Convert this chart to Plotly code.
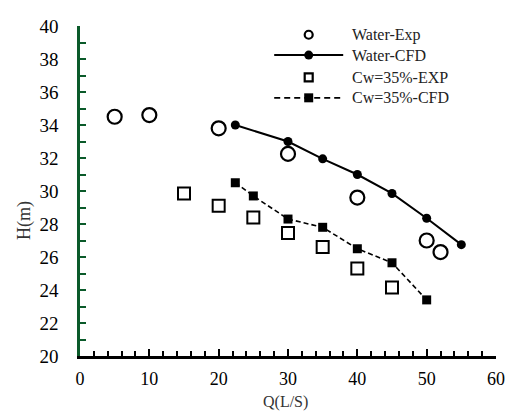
import plotly.graph_objects as go

# ---- data ----
water_exp_q = [5, 10, 20, 30, 40, 50, 52]
water_exp_h = [34.5, 34.6, 33.8, 32.25, 29.6, 27.0, 26.3]

water_cfd_q = [22.4, 30, 35, 40, 45, 50, 55]
water_cfd_h = [34.0, 33.0, 31.95, 31.0, 29.85, 28.35, 26.75]

cw_exp_q = [15, 20, 25, 30, 35, 40, 45]
cw_exp_h = [29.85, 29.1, 28.4, 27.45, 26.6, 25.3, 24.15]

cw_cfd_q = [22.4, 25, 30, 35, 40, 45, 50]
cw_cfd_h = [30.5, 29.7, 28.3, 27.8, 26.5, 25.65, 23.4]

legend_names = ["Water-Exp", "Water-CFD", "Cw=35%-EXP", "Cw=35%-CFD"]

# page has an 8px body margin; figure is sized so the page is 513x420
OFF = 8
W, H = 513 - OFF, 420 - 2 * OFF
# plot-area bounds in page pixels
PL, PR, PT, PB = 80, 502, 16, 356
L, R, T, B = PL - OFF, PR - OFF, PT - OFF, PB - OFF
GREEN = "#0a5a2a"
FONT = "Liberation Serif"


def px(x):
    return (x - PL) / (PR - PL)


def py(y):
    return (PB - y) / (PB - PT)


fig = go.Figure()

fig.add_trace(go.Scatter(x=water_exp_q, y=water_exp_h, mode="markers",
                         marker=dict(symbol="circle-open", size=14, color="black",
                                     line=dict(width=2.2, color="black"))))
fig.add_trace(go.Scatter(x=water_cfd_q, y=water_cfd_h, mode="lines+markers",
                         line=dict(color="black", width=2),
                         marker=dict(symbol="circle", size=9, color="black")))
fig.add_trace(go.Scatter(x=cw_exp_q, y=cw_exp_h, mode="markers",
                         marker=dict(symbol="square-open", size=12, color="black",
                                     line=dict(width=2, color="black"))))
fig.add_trace(go.Scatter(x=cw_cfd_q, y=cw_cfd_h, mode="lines+markers",
                         line=dict(color="black", width=1.6, dash="5px,3px"),
                         marker=dict(symbol="square", size=9, color="black")))

# ---- custom legend (overlay axis in page-pixel units) ----
rows_y = [25, 46, 69, 90]
key_x0, key_xm, key_x1, text_x = 277, 312, 347, 354
key_lines = [None, dict(color="black", width=2), None,
             dict(color="black", width=1.8, dash="6px,4px")]
key_markers = [
    dict(symbol="circle-open", size=8, color="black", line=dict(width=2.2, color="black")),
    dict(symbol="circle", size=9, color="black"),
    dict(symbol="square-open", size=8, color="black", line=dict(width=2.2, color="black")),
    dict(symbol="square", size=9, color="black"),
]
for name, yy, ln, mk in zip(legend_names, rows_y, key_lines, key_markers):
    if ln is not None:
        fig.add_trace(go.Scatter(x=[key_x0, key_x1], y=[yy, yy], mode="lines", line=ln,
                                 xaxis="x2", yaxis="y2", hoverinfo="skip"))
    fig.add_trace(go.Scatter(x=[key_xm], y=[yy], mode="markers", marker=mk,
                             xaxis="x2", yaxis="y2", hoverinfo="skip"))
    fig.add_annotation(x=px(text_x), y=py(yy), xref="paper", yref="paper", text=name,
                       showarrow=False, xanchor="left", yanchor="middle",
                       font=dict(family=FONT, size=16, color="#222"))

# axis titles
fig.add_annotation(x=px(23), y=py(216), xref="paper", yref="paper", text="H(m)",
                   textangle=-90, showarrow=False, xanchor="center", yanchor="middle",
                   font=dict(family=FONT, size=18, color="#333"))
fig.add_annotation(x=px(288), y=py(403), xref="paper", yref="paper", text="Q(L/S)",
                   showarrow=False, xanchor="center", yanchor="middle",
                   font=dict(family=FONT, size=16, color="#333"))

fig.update_layout(
    width=W, height=H,
    margin=dict(l=L, r=W - R, t=T, b=H - B, pad=0),
    paper_bgcolor="white", plot_bgcolor="white",
    showlegend=False,
    xaxis=dict(range=[0, 60], tickvals=[0, 10, 20, 30, 40, 50, 60],
               ticks="inside", ticklen=7, tickwidth=2, tickcolor="black",
               minor=dict(dtick=2, ticks="inside", ticklen=5, tickwidth=1.5, tickcolor="black"),
               showline=True, linecolor="black", linewidth=2.5,
               showgrid=False, zeroline=False,
               tickfont=dict(family=FONT, size=18, color="black"),
               ticklabelstandoff=5, ticklabeloverflow="allow"),
    yaxis=dict(range=[20, 40], tickvals=list(range(20, 41, 2)),
               ticks="inside", ticklen=6, tickwidth=2, tickcolor=GREEN,
               minor=dict(dtick=1, ticks="inside", ticklen=6, tickwidth=2, tickcolor=GREEN),
               showline=True, linecolor=GREEN, linewidth=2.5,
               showgrid=False, zeroline=False,
               tickfont=dict(family=FONT, size=19, color="black"),
               ticklabelstandoff=15, ticklabeloverflow="allow"),
    xaxis2=dict(overlaying="x", range=[PL, PR], visible=False, fixedrange=True),
    yaxis2=dict(overlaying="y", range=[PB, PT], visible=False, fixedrange=True),
)

fig.write_html("out.html")
